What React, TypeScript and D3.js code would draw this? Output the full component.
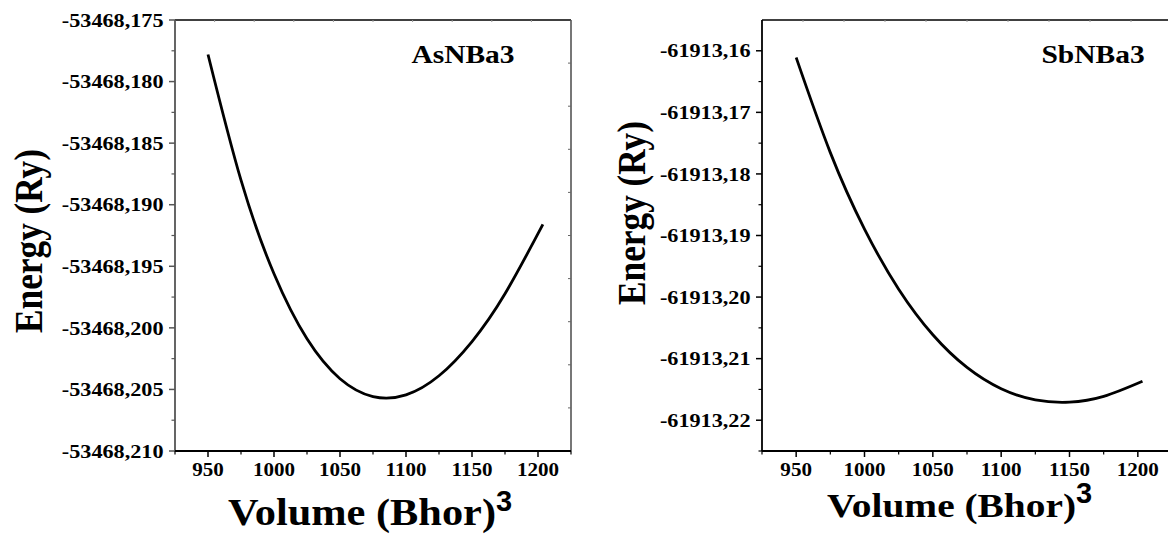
import React from 'react';
import * as d3 from 'd3';

// AsNBa3 energy vs volume
const asVolume = [950, 975, 1000, 1025, 1050, 1075, 1100, 1125, 1150, 1175, 1203.7];
const asEnergy = [-53468.1778, -53468.18801, -53468.19561, -53468.20089, -53468.20413, -53468.20558,
  -53468.20544, -53468.20389, -53468.20111, -53468.19723, -53468.1916];

// SbNBa3 energy vs volume
const sbVolume = [950, 975, 1000, 1025, 1050, 1075, 1100, 1125, 1150, 1175, 1203.4];
const sbEnergy = [-61913.1611, -61913.17654, -61913.18896, -61913.19872, -61913.20612, -61913.21143,
  -61913.21489, -61913.2167, -61913.21706, -61913.21613, -61913.21367];

const xTicks = [950, 1000, 1050, 1100, 1150, 1200];
const xMinor = [925, 975, 1025, 1075, 1125, 1175, 1225];
const asYTicks = [-53468.175, -53468.18, -53468.185, -53468.19, -53468.195, -53468.2, -53468.205, -53468.21];
const sbYTicks = [-61913.16, -61913.17, -61913.18, -61913.19, -61913.2, -61913.21, -61913.22];

const serif = '"Liberation Serif", "Times New Roman", serif';

type PanelProps = {
  vol: number[];
  en: number[];
  yDomain: [number, number];
  yTicks: number[];
  decimals: number;
  name: string;
  left: number;
  right: number;
  top: number;
  bottom: number;
  leftAxisColor: string;
  nameX: number;
  yTitleX: number;
  yTitleY: number;
  xTitleX: number;
  xTitleY: number;
  xTitleSize: number;
  xTitleLen: number;
};

const Panel = (p: PanelProps) => {
  const x = d3.scaleLinear().domain([925, 1225]).range([p.left, p.right]);
  const y = d3.scaleLinear().domain(p.yDomain).range([p.bottom, p.top]);
  // opposite axes: Origin style, 10 divisions, no labels
  const opp = d3.scaleLinear().domain([0, 10]);
  const topX = opp.copy().range([p.left, p.right]);
  const rightY = opp.copy().range([p.bottom, p.top]);

  const step = p.yTicks[1] - p.yTicks[0];
  const yMinor = p.yTicks.map(t => t + step / 2).filter(t => t >= p.yDomain[0] && t <= p.yDomain[1]);

  const line = d3.line<number>()
    .x((_, i) => x(p.vol[i]))
    .y(d => y(d))
    .curve(d3.curveNatural);

  const fmt = (d: number) => d.toFixed(p.decimals).replace('.', ',');

  return (
    <g>
      {/* top axis */}
      <line x1={p.left} x2={p.right} y1={p.top} y2={p.top} stroke="#000" strokeWidth={1.3} />
      {opp.ticks(10).slice(1, -1).map(t => (
        <line key={'t' + t} x1={topX(t)} x2={topX(t)} y1={p.top} y2={p.top + 2} stroke="#999" strokeWidth={1} />
      ))}
      {/* right axis */}
      <line x1={p.right} x2={p.right} y1={p.top} y2={p.bottom} stroke="#555" strokeWidth={1.6} />
      {opp.ticks(10).slice(1, -1).map(t => (
        <line key={'r' + t} x1={p.right - 3} x2={p.right} y1={rightY(t)} y2={rightY(t)} stroke="#666" strokeWidth={1} />
      ))}
      {/* left axis */}
      <line x1={p.left} x2={p.left} y1={p.top} y2={p.bottom} stroke={p.leftAxisColor} strokeWidth={1.8} />
      {p.yTicks.map(t => (
        <g key={'y' + t}>
          <line x1={p.left - 6} x2={p.left} y1={y(t)} y2={y(t)} stroke={p.leftAxisColor} strokeWidth={1.5} />
          <text transform={`translate(${p.left - 11.5},${y(t)}) scale(1.2,1)`} dy="0.36em" textAnchor="end"
            fontFamily={serif} fontWeight="bold" fontSize={18.5}>{fmt(t)}</text>
        </g>
      ))}
      {yMinor.map(t => (
        <line key={'ym' + t} x1={p.left - 3.5} x2={p.left} y1={y(t)} y2={y(t)} stroke={p.leftAxisColor} strokeWidth={1.2} />
      ))}
      {/* bottom axis */}
      <line x1={p.left} x2={p.right} y1={p.bottom} y2={p.bottom} stroke="#000" strokeWidth={1.8} />
      {xTicks.map(t => (
        <g key={'x' + t}>
          <line x1={x(t)} x2={x(t)} y1={p.bottom} y2={p.bottom + 6} stroke="#000" strokeWidth={1.5} />
          <text transform={`translate(${x(t)},${p.bottom + 24.5}) scale(1.14,1)`} textAnchor="middle"
            fontFamily={serif} fontWeight="bold" fontSize={18.5}>{t}</text>
        </g>
      ))}
      {xMinor.map(t => (
        <line key={'xm' + t} x1={x(t)} x2={x(t)} y1={p.bottom} y2={p.bottom + 3.5} stroke="#000" strokeWidth={1.2} />
      ))}
      {/* curve */}
      <path d={line(p.en) ?? ''} fill="none" stroke="#000" strokeWidth={2.8} />
      {/* compound name */}
      <text transform={`translate(${p.nameX},63) scale(1.18,1)`} textAnchor="middle"
        fontFamily={serif} fontWeight="bold" fontSize={25}>{p.name}</text>
      {/* axis titles */}
      <text transform={`translate(${p.yTitleX},${p.yTitleY}) rotate(-90)`} textAnchor="middle"
        fontFamily={serif} fontWeight="bold" fontSize={41} textLength={184} lengthAdjust="spacingAndGlyphs">Energy (Ry)</text>
      <text x={p.xTitleX} y={p.xTitleY} fontFamily={serif} fontWeight="bold" fontSize={p.xTitleSize}
        textLength={p.xTitleLen} lengthAdjust="spacingAndGlyphs">Volume (Bhor)</text>
      <text x={p.xTitleX + p.xTitleLen} y={p.xTitleY - 14} fontFamily='"Liberation Sans", Arial, sans-serif'
        fontWeight="bold" fontSize={29}>3</text>
    </g>
  );
};

export default function App() {
  return (
    <div style={{ position: 'absolute', left: 0, top: 0 }}>
      <svg width={1168} height={534} style={{ display: 'block', background: '#fff' }}>
        <Panel vol={asVolume} en={asEnergy} yDomain={[-53468.21, -53468.175]} yTicks={asYTicks} decimals={3}
          name="AsNBa3" left={175} right={571} top={20} bottom={451} leftAxisColor="#555"
          nameX={463} yTitleX={42} yTitleY={241} xTitleX={228} xTitleY={525} xTitleSize={38} xTitleLen={268} />
        <Panel vol={sbVolume} en={sbEnergy} yDomain={[-61913.225, -61913.155]} yTicks={sbYTicks} decimals={2}
          name="SbNBa3" left={762} right={1172} top={20} bottom={451} leftAxisColor="#000"
          nameX={1093} yTitleX={645} yTitleY={213} xTitleX={827} xTitleY={517} xTitleSize={33} xTitleLen={249} />
      </svg>
    </div>
  );
}
